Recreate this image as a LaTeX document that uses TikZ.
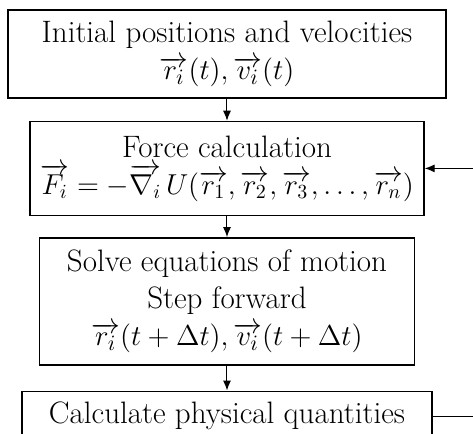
\documentclass[tikz,border=0pt]{standalone}
\usepackage{amsmath}
\usetikzlibrary{positioning,arrows.meta}

\begin{document}
\begin{tikzpicture}[x=1pt, y=1pt,
	node distance=11pt,
	box/.style={draw, line width=0.7pt, align=center, inner sep=0pt,
		font=\fontsize{15.5}{18.5}\selectfont},
	flow/.style={-{Latex[length=5pt,width=4pt]}, line width=0.5pt}]
	% frame: the picture is cut at the bottom and on the right
	\useasboundingbox (0,0) rectangle (236.5,-217);
	\clip (0,0) rectangle (236.5,-217);
	% steps
	\node[box, minimum width=219pt, minimum height=44pt] (init) at (113.5,-27)
		{Initial positions and velocities\\ $\overrightarrow{r_i}(t),\overrightarrow{v_i}(t)$};
	\node[box, minimum width=197pt, minimum height=47pt, below=of init] (force)
		{Force calculation\\ {\fontsize{14}{18}\selectfont $\overrightarrow{F_i} = -\overrightarrow{\nabla_i}\, U(\overrightarrow{r_1},\overrightarrow{r_2},\overrightarrow{r_3},\dots,\overrightarrow{r_n})$}};
	\node[box, minimum width=187.5pt, minimum height=63.5pt, below=10.5pt of force] (solve)
		{Solve equations of motion\\ Step forward\\ $\overrightarrow{r_i}(t+\Delta t),\overrightarrow{v_i}(t+\Delta t)$};
	\node[box, minimum width=205pt, minimum height=25pt, below=12.5pt of solve] (calc)
		{Calculate physical quantities};
	% loop ends, outside the frame
	\coordinate (feedin) at (force.east -| 240,0);
	\coordinate (feedout) at (calc.east -| 240,0);
	% connectors
	\draw[flow] (init) -- (force);
	\draw[flow] (force) -- (solve);
	\draw[flow] (solve) -- (calc);
	\draw[flow] (feedin) -- (force);
	\draw[line width=0.5pt] (calc) -- (feedout);
\end{tikzpicture}
\end{document}
